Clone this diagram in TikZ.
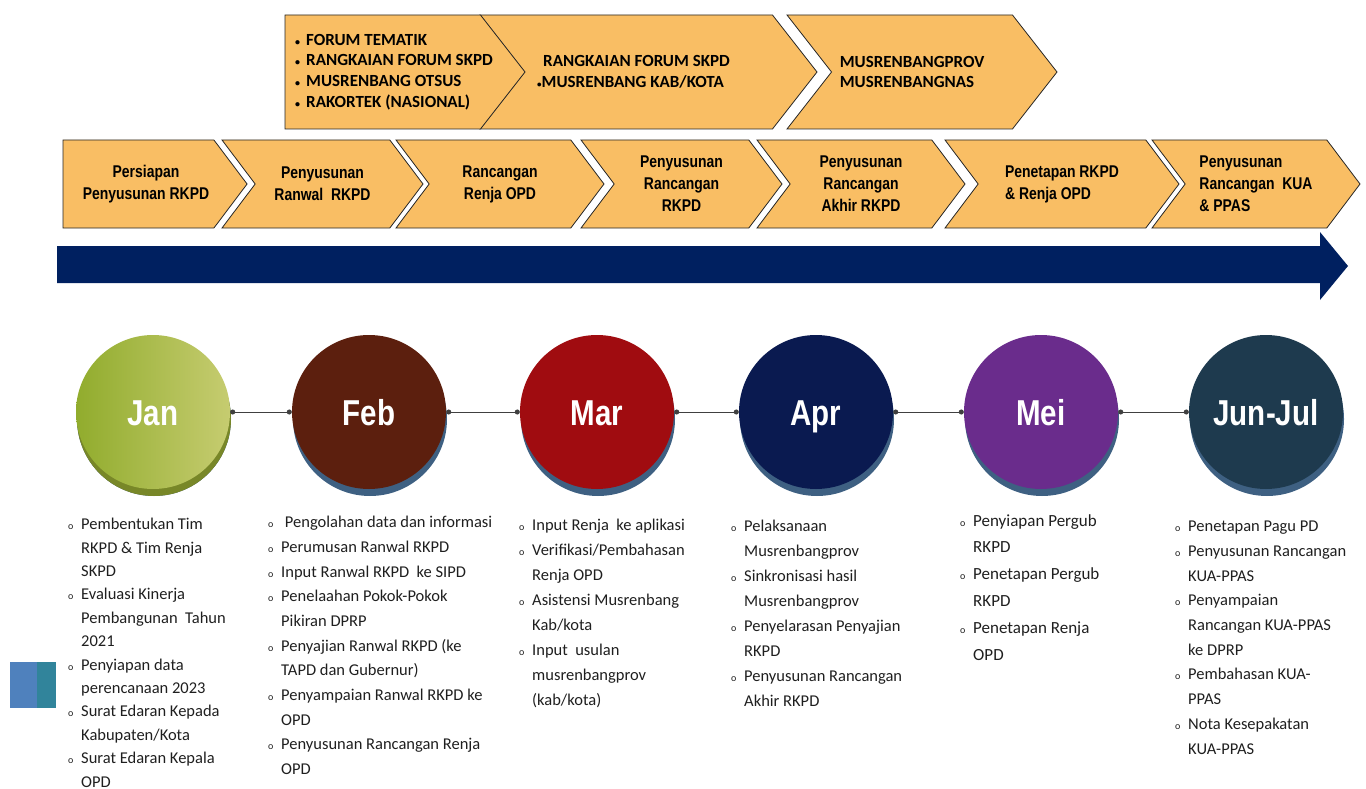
\documentclass[tikz,border=0pt]{standalone}
\usepackage{fontspec}
\setmainfont{Carlito}
\newfontfamily\narrowfont{Liberation Sans}[FakeStretch=0.82]
\usetikzlibrary{shapes.symbols,shadows,arrows.meta}

\definecolor{chev}{RGB}{249,190,100}
\definecolor{navy}{RGB}{0,32,96}
\definecolor{janl}{RGB}{145,172,45}
\definecolor{janr}{RGB}{198,204,112}
\definecolor{janrim}{RGB}{120,135,40}
\definecolor{febc}{RGB}{92,31,14}
\definecolor{marc}{RGB}{160,12,16}
\definecolor{aprc}{RGB}{10,26,80}
\definecolor{meic}{RGB}{106,44,140}
\definecolor{junc}{RGB}{30,58,78}
\definecolor{rim}{RGB}{62,96,130}
\definecolor{sqblue}{RGB}{79,129,189}
\definecolor{sqteal}{RGB}{49,132,155}

\newcommand\lbul{\makebox[13pt][l]{\fontsize{10}{10}\selectfont o}}
\newcommand\lind{\hspace*{13pt}}
\newcommand\fbul{\makebox[11pt][l]{\fontsize{10}{10}\selectfont\textbullet}}

\begin{document}
\begin{tikzpicture}[x=1pt, y=-1pt,
    stage/.style={signal, signal to=east, signal from=west, signal pointer angle=106,
      draw=black!85, line width=0.8pt, fill=chev, minimum height=88pt, inner sep=0pt,
      align=center, font=\narrowfont\bfseries\fontsize{17}{22}\selectfont},
    forum/.style={stage, minimum height=114pt, signal pointer angle=104, align=left,
      font=\bfseries\fontsize{17}{20.7}\selectfont},
    forumtext/.style={inner sep=0pt, align=left, font=\bfseries\fontsize{17}{20.7}\selectfont},
    month/.style={circle, minimum size=154pt, inner sep=0pt, text=white,
      text height=26pt, text depth=0pt,
      font=\narrowfont\bfseries\fontsize{36}{36}\selectfont,
      drop shadow={shadow xshift=1pt, shadow yshift=-7pt, fill=rim, opacity=1}},
    link/.style={draw=black!75, line width=1pt, {Circle[length=5pt]}-{Circle[length=5pt]}},
    list/.style={anchor=north west, inner sep=0pt, align=left, text=black!88,
      font=\fontsize{16.5}{24.7}\selectfont},
  ]
  \useasboundingbox (0,0) rectangle (1366,789);

  % forum row
  \node[forum, minimum width=337pt] (musrenkab) at (648.5,72)
    {\hspace*{6pt}RANGKAIAN FORUM SKPD\\{\fontsize{9}{9}\selectfont\textbullet}MUSRENBANG KAB/KOTA\hspace*{36pt}};
  \node[forum, signal from=nowhere, minimum width=240pt] (forum) at (382.75,72) {};
  \node[forumtext, anchor=west] (forumlist) at (295,72)
    {\fbul FORUM TEMATIK\\\fbul RANGKAIAN FORUM SKPD\\\fbul MUSRENBANG OTSUS\\\fbul RAKORTEK (NASIONAL)};
  \node[forum, minimum width=270pt] (musrenprov) at (922,72)
    {MUSRENBANGPROV\\MUSRENBANGNAS\hspace*{30pt}};

  % stage row
  \node[stage, signal from=nowhere, minimum width=184pt] (prep) at (138.5,184)
    {\hspace*{15pt}Persiapan\\\hspace*{15pt}Penyusunan RKPD};
  \node[stage, minimum width=201pt] (ranwal) at (322.5,184) {Penyusunan\\Ranwal\ \ RKPD};
  \node[stage, minimum width=208pt] (renja) at (500,184) {Rancangan\\Renja OPD};
  \node[stage, minimum width=201pt] (rancangan) at (681.5,184) {Penyusunan\\Rancangan\\RKPD};
  \node[stage, minimum width=208pt] (akhir) at (861,184) {Penyusunan\\Rancangan\\Akhir RKPD};
  \node[stage, align=left, minimum width=234pt] (penetapan) at (1062,184) {Penetapan RKPD\\\& Renja OPD\hspace*{24pt}};
  \node[stage, align=left, minimum width=208pt] (kua) at (1256,184) {Penyusunan\\Rancangan\ \ KUA\\\& PPAS};

  % timeline arrow
  \fill[navy] (57,246) -- (1320,246) -- (1320,232) -- (1348,266)
    -- (1320,300) -- (1320,283) -- (57,283) -- cycle;

  % months
  \node[month, left color=janl, right color=janr,
    drop shadow={shadow xshift=1pt, shadow yshift=-7pt, fill=janrim, opacity=1}] (jan) at (153,412) {Jan};
  \node[month, fill=febc] (feb) at (369,412) {Feb};
  \node[month, fill=marc] (mar) at (597,412) {Mar};
  \node[month, fill=aprc] (apr) at (816,412) {Apr};
  \node[month, fill=meic] (mei) at (1041,412) {Mei};
  \node[month, fill=junc] (junjul) at (1266,412) {Jun-Jul};

  \draw[link] (jan.east) -- (feb.west);
  \draw[link] (feb.east) -- (mar.west);
  \draw[link] (mar.east) -- (apr.west);
  \draw[link] (apr.east) -- (mei.west);
  \draw[link] (mei.east) -- (junjul.west);

  % activity lists
  \node[list, font=\fontsize{16.5}{23.4}\selectfont] (listjan) at (68,518) {\lbul Pembentukan Tim\\\lind RKPD \& Tim Renja\\\lind SKPD\\
    \lbul Evaluasi Kinerja\\\lind Pembangunan\ \ Tahun\\\lind 2021\\
    \lbul Penyiapan data\\\lind perencanaan 2023\\
    \lbul Surat Edaran Kepada\\\lind Kabupaten/Kota\\
    \lbul Surat Edaran Kepala\\\lind OPD};
  \node[list] (listfeb) at (268,516) {\lbul\ Pengolahan data dan informasi\\\lbul Perumusan Ranwal RKPD\\
    \lbul Input Ranwal RKPD\ \ ke SIPD\\\lbul Penelaahan Pokok-Pokok\\\lind Pikiran DPRP\\
    \lbul Penyajian Ranwal RKPD (ke\\\lind TAPD dan Gubernur)\\
    \lbul Penyampaian Ranwal RKPD ke\\\lind OPD\\
    \lbul Penyusunan Rancangan Renja\\\lind OPD};
  \node[list, font=\fontsize{16.5}{25}\selectfont] (listmar) at (519,519) {\lbul Input Renja\ \ ke aplikasi\\
    \lbul Verifikasi/Pembahasan\\\lind Renja OPD\\
    \lbul Asistensi Musrenbang\\\lind Kab/kota\\
    \lbul Input\ \ usulan\\\lind musrenbangprov\\\lind (kab/kota)};
  \node[list, font=\fontsize{16.5}{25}\selectfont] (listapr) at (731,520) {\lbul Pelaksanaan\\\lind Musrenbangprov\\
    \lbul Sinkronisasi hasil\\\lind Musrenbangprov\\
    \lbul Penyelarasan Penyajian\\\lind RKPD\\
    \lbul Penyusunan Rancangan\\\lind Akhir RKPD};
  \node[list, font=\fontsize{17}{26.8}\selectfont] (listmei) at (960,514) {\lbul Penyiapan Pergub\\\lind RKPD\\
    \lbul Penetapan Pergub\\\lind RKPD\\
    \lbul Penetapan Renja\\\lind OPD};
  \node[list] (listjun) at (1175,521) {\lbul Penetapan Pagu PD\\
    \lbul Penyusunan Rancangan\\\lind KUA-PPAS\\
    \lbul Penyampaian\\\lind Rancangan KUA-PPAS\\\lind ke DPRP\\
    \lbul Pembahasan KUA-\\\lind PPAS\\
    \lbul Nota Kesepakatan\\\lind KUA-PPAS};

  % corner mark
  \fill[sqblue] (10,662) rectangle (37,708);
  \fill[sqteal] (37,662) rectangle (56,708);
\end{tikzpicture}
\end{document}
